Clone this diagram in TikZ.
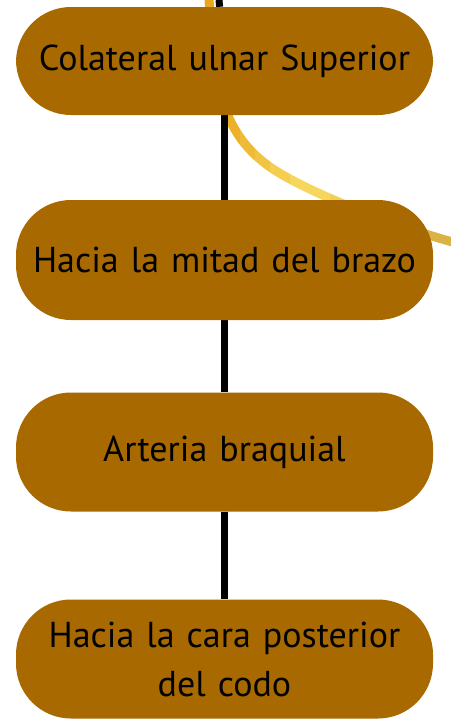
\documentclass[tikz,border=0pt]{standalone}
\usepackage{fontspec}
\setmainfont{PT Sans}
\usetikzlibrary{positioning}
\pgfdeclarelayer{back}
\pgfsetlayers{back,main}
\definecolor{boxbrown}{RGB}{168,106,0}
\definecolor{yelA}{RGB}{233,168,28}
\definecolor{yelB}{RGB}{247,214,94}
\definecolor{yelC}{RGB}{214,172,66}
\tikzset{
  branch/.style={rectangle, rounded corners=55pt, fill=boxbrown, minimum width=417pt,
    text width=410pt, align=center, inner sep=0pt,
    font=\fontsize{36}{49}\selectfont},
  trunk/.style={line width=7pt, black},
  vein/.style={line width=9pt, line cap=round},
}

\begin{document}
\begin{tikzpicture}[x=1pt,y=-1pt]
\useasboundingbox (0,0) rectangle (450,723);
\node[branch, minimum height=108pt] (colateral) at (224.5,61) {Colateral ulnar Superior};
\node[branch, minimum height=120pt] (mitad) at (224.5,260) {Hacia la mitad del brazo};
\node[branch, minimum height=119pt] (braquial) at (224.5,452) {Arteria braquial};
\node[branch, minimum height=119pt] (codo) at (224.5,659) {Hacia la cara posterior\\del codo};
\coordinate (top) at (219,0);
\def\veinpath{(209,-4) .. controls (212,90) and (225,135) .. (270,167)
  .. controls (300,188) and (380,222) .. (456,243)}
\begin{pgfonlayer}{back}
% yellow vessel, coloured band by band
\foreach \xa/\xb/\c in {195/226/yelA, 226/240/yelB!20!yelA, 240/255/yelB!40!yelA,
  255/270/yelB!60!yelA, 270/290/yelB!80!yelA, 290/330/yelB, 330/360/yelC!20!yelB,
  360/390/yelC!40!yelB, 390/420/yelC!60!yelB, 420/460/yelC!85!yelB}
{
  \begin{scope}
  \clip (\xa,-10) rectangle (\xb,300);
  \draw[vein, \c] \veinpath;
  \end{scope}
}
\draw[trunk] (top) -- (colateral);
\draw[trunk] (colateral) -- (mitad);
\draw[trunk] (mitad) -- (braquial);
\draw[trunk] (braquial) -- (codo);
\end{pgfonlayer}
\end{tikzpicture}
\end{document}
